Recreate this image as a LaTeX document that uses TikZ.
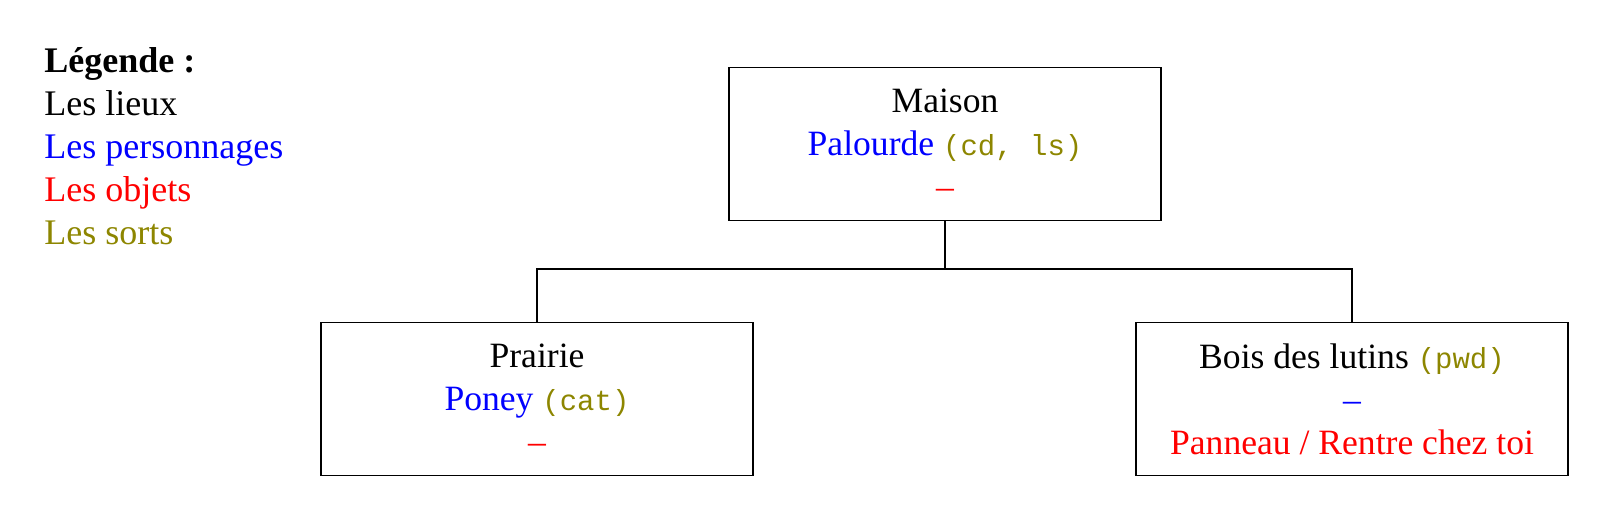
\documentclass[tikz,border=0pt]{standalone}
\usepackage{fontspec}
\setmainfont{Liberation Serif}
\setmonofont{Liberation Mono}
\usepackage{xcolor}
\begin{document}
\begin{tikzpicture}[x=0.5pt,y=-0.5pt,
  lieu/.style={draw, line width=0.6pt, minimum width=216pt, minimum height=76.5pt, align=center, inner sep=0pt,
    font=\fontsize{17.8}{21.5}\selectfont},
  leg/.style={anchor=base west, inner sep=0pt, font=\fontsize{18}{21.5}\selectfont},
  conn/.style={line width=0.6pt}]
\useasboundingbox (0,0) rectangle (1612,520);
\newcommand{\perso}[1]{\textcolor{blue}{#1}}
\newcommand{\objet}[1]{\textcolor{red}{#1}}
\newcommand{\sort}[1]{\textcolor{olive}{\fontsize{14.5}{21.5}\selectfont\texttt{#1}}}
% legend
\node[leg] (l0) at (44,72) {\textbf{Légende :}};
\node[leg] (l1) at (44,115) {Les lieux};
\node[leg, text=blue] (l2) at (44,158) {Les personnages};
\node[leg, text=red] (l3) at (44,201) {Les objets};
\node[leg, text=olive] (l4) at (44,244) {Les sorts};
% places
\node[lieu] (maison) at (945,144) {Maison\\\perso{Palourde} \sort{(cd, ls)}\\\objet{--}};
\node[lieu] (prairie) at (537,399) {Prairie\\\perso{Poney} \sort{(cat)}\\\objet{--}};
\node[lieu] (bois) at (1352,399) {Bois des lutins \sort{(pwd)}\\\perso{--}\\\objet{Panneau / Rentre chez toi}};
\coordinate (mid) at (945,269);
\draw[conn] (maison.south) -- (mid) -| (prairie.north);
\draw[conn] (mid) -| (bois.north);
\end{tikzpicture}
\end{document}
